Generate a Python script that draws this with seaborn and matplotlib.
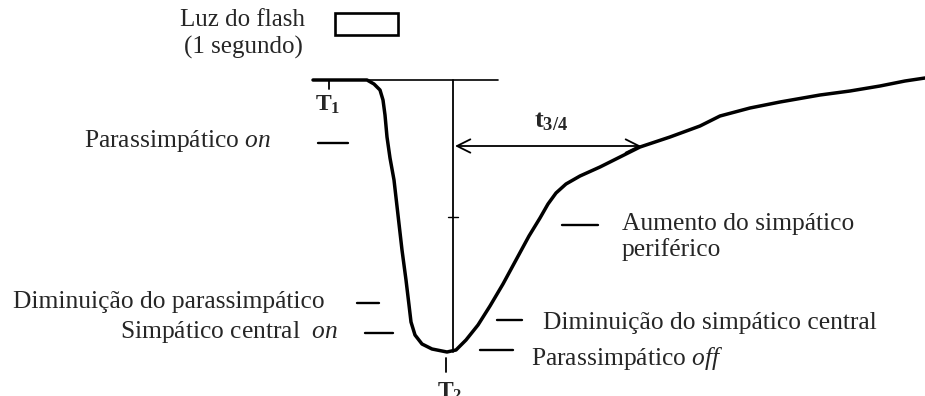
#!/usr/bin/env python3
# Pupil response to a 1 s flash, redrawn in figure pixel space

import matplotlib
matplotlib.use('Agg')
import matplotlib.pyplot as plt
import pandas as pd
import seaborn as sns

# Data =========================================================================

# pupil trace (x, y in picture units, y grows downward)
curve_x = [313, 367, 374, 380, 383, 385, 387, 390, 394, 398, 402, 406, 409,
           411, 415, 422, 432, 447, 456, 466, 478, 490, 503, 516, 529, 540,
           548, 556, 566, 580, 600, 620, 640, 670, 700, 720, 750, 780,
           820, 850, 880, 905, 925]
curve_y = [80, 80, 84, 90, 100, 115, 137, 158, 180, 215, 250, 280, 305,
           322, 335, 344, 349, 352, 350, 340, 325, 306, 284, 260, 236, 218,
           204, 193, 184, 176, 167, 157, 147, 137, 126, 116, 108, 102,
           95, 91, 86, 81, 78]

baseline_x = [313, 498]
baseline_y = [80, 80]

labels = [
    ('Parassimpático $\\it{on}$', 271, 141, 'right', (318, 348, 143)),
    ('Aumento do simpático\nperiférico', 622, 237, 'left', (562, 598, 225)),
    ('Diminuição do parassimpático', 325, 302, 'right', (357, 379, 303)),
    ('Simpático central  $\\it{on}$', 338, 332, 'right', (365, 393, 333)),
    ('Diminuição do simpático central', 543, 323, 'left', (497, 522, 320)),
    ('Parassimpático $\\it{off}$', 531, 358, 'left', (480, 513, 350)),
]


# Plot =========================================================================

def main():
    sns.set_theme(style='white')
    plt.rcParams['font.family'] = ['Liberation Serif', 'DejaVu Serif']
    plt.rcParams['mathtext.fontset'] = 'custom'
    plt.rcParams['mathtext.it'] = 'Liberation Serif:italic'
    plt.rcParams['mathtext.rm'] = 'Liberation Serif'
    plt.rcParams['mathtext.bf'] = 'Liberation Serif:bold'

    fig = plt.figure(figsize=(9.25, 3.96), dpi=100)
    ax = fig.add_axes([0, 0, 1, 1])

    trace = pd.DataFrame({'x': curve_x, 'y': curve_y})
    sns.lineplot(data=trace, x='x', y='y', sort=False, color='black',
                 linewidth=2.5, ax=ax)
    ax.plot(baseline_x, baseline_y, color='black', linewidth=1.2)

    # T2 vertical and its small cross tick
    ax.plot([453, 453], [80, 352], color='black', linewidth=1.3)
    ax.plot([448, 458], [217, 217], color='black', linewidth=1.0)

    # T1 / T2 ticks and labels
    ax.plot([329, 329], [80, 89], color='black', linewidth=1.3)
    ax.text(328, 105, 'T$_\\mathbf{1}$', ha='center', va='center',
            fontsize=17, fontweight='bold')
    ax.plot([446, 446], [358, 372], color='black', linewidth=1.3)
    ax.text(450, 392, 'T$_\\mathbf{2}$', ha='center', va='center',
            fontsize=17, fontweight='bold')

    # t3/4 double arrow
    ax.annotate('', xy=(455, 146), xytext=(641, 146),
                arrowprops=dict(arrowstyle='<->', color='black', lw=1.3,
                                mutation_scale=24, shrinkA=0, shrinkB=0))
    ax.text(551, 122, 't$_{\\mathbf{3/4}}$', ha='center', va='center',
            fontsize=19, fontweight='bold')

    # flash box
    ax.add_patch(plt.Rectangle((335, 13), 63, 22, fill=False,
                               edgecolor='black', linewidth=1.9))
    ax.text(243, 34, 'Luz do flash\n(1 segundo)', ha='center', va='center',
            fontsize=18, linespacing=1.25)

    for text, tx, ty, ha, (dx0, dx1, dy) in labels:
        ax.plot([dx0, dx1], [dy, dy], color='black', linewidth=1.7)
        ax.text(tx, ty, text, ha=ha, va='center', fontsize=18.4,
                linespacing=1.2)

    ax.set_xlim(0, 925)
    ax.set_ylim(396, 0)
    ax.set_axis_off()
    fig.savefig('out.png', dpi=100)


if __name__ == '__main__':
    main()
